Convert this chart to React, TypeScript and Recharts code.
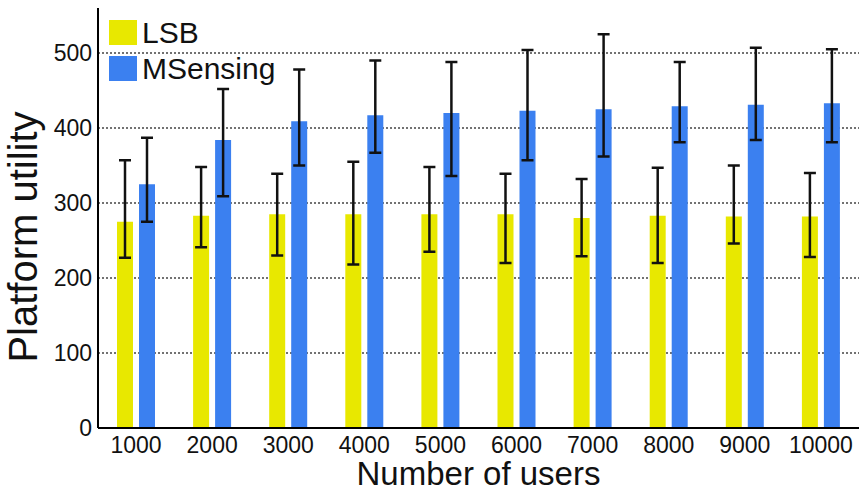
import React from 'react';
import { BarChart, Bar, XAxis, YAxis, CartesianGrid, ErrorBar, Legend } from 'recharts';

const categories = ['1000', '2000', '3000', '4000', '5000', '6000', '7000', '8000', '9000', '10000'];
const lsbValues = [275, 283, 285, 285, 285, 285, 280, 283, 282, 282];
const lsbUpper = [357, 348, 339, 355, 348, 339, 332, 347, 350, 340];
const lsbLower = [227, 241, 230, 218, 235, 220, 229, 220, 246, 228];
const msValues = [325, 384, 409, 417, 420, 423, 425, 429, 431, 433];
const msUpper = [387, 452, 478, 490, 488, 504, 525, 488, 507, 505];
const msLower = [275, 309, 350, 367, 336, 357, 362, 381, 384, 381];
const yTicks = [0, 100, 200, 300, 400, 500];
const gridValues = [100, 200, 300, 400, 500];

const data = categories.map((c, i) => ({
  users: c,
  LSB: lsbValues[i],
  lsbErr: [lsbValues[i] - lsbLower[i], lsbUpper[i] - lsbValues[i]],
  MSensing: msValues[i],
  msErr: [msValues[i] - msLower[i], msUpper[i] - msValues[i]],
}));

const FONT = '"Liberation Sans", Arial, sans-serif';
const YELLOW = '#e8e800';
const BLUE = '#3b80f0';

const LegendContent = (props: any) => {
  const { payload } = props;
  return (
    <div style={{ fontFamily: FONT }}>
      {(payload || []).map((p: any, i: number) => (
        <div key={i} style={{ display: 'flex', alignItems: 'center', height: 25, marginBottom: 11 }}>
          <div style={{ width: 28, height: 25, background: p.color }} />
          <span style={{ fontSize: 30, color: '#111', marginLeft: 5, lineHeight: '25px' }}>{p.value}</span>
        </div>
      ))}
    </div>
  );
};

const YLabel = (props: any) => {
  const vb = props.viewBox;
  const x = vb.x + 37;
  const y = vb.y + vb.height / 2 + 19;
  return (
    <text x={x} y={y} transform={`rotate(-90, ${x}, ${y})`} textAnchor="middle" fontSize={40} fill="#111" fontFamily={FONT}>
      Platform utility
    </text>
  );
};

const XLabel = (props: any) => {
  const vb = props.viewBox;
  const x = vb.x + vb.width / 2;
  const y = vb.y + 57;
  return (
    <text x={x} y={y} textAnchor="middle" fontSize={33} fill="#111" fontFamily={FONT}>
      Number of users
    </text>
  );
};

export default function App() {
  return (
    <div style={{ position: 'absolute', left: 0, top: 0, background: '#fff' }}>
      <BarChart
        width={859}
        height={491}
        data={data}
        margin={{ top: 8, right: 0, bottom: 0, left: 0 }}
        barGap={6}
        barSize={16}
      >
        <CartesianGrid vertical={false} horizontalValues={gridValues} stroke="#444" strokeDasharray="2 2" strokeWidth={1.5} />
        <XAxis
          dataKey="users"
          height={63}
          axisLine={{ stroke: '#000', strokeWidth: 2 }}
          tickLine={false}
          tickSize={6}
          tickMargin={3}
          interval={0}
          tick={{ fontSize: 23, fill: '#111', fontFamily: FONT }}
          label={<XLabel />}
        />
        <YAxis
          width={98}
          domain={[0, 560]}
          ticks={yTicks}
          allowDataOverflow
          axisLine={{ stroke: '#000', strokeWidth: 2 }}
          tickLine={false}
          tickSize={4}
          tickMargin={2}
          tick={{ fontSize: 23, fill: '#111', fontFamily: FONT }}
          label={<YLabel />}
        />
        <Legend
          verticalAlign="middle"
          align="center"
          layout="vertical"
          content={<LegendContent />}
          wrapperStyle={{ top: 20, left: 109, width: 200 }}
        />
        <Bar dataKey="LSB" fill={YELLOW} isAnimationActive={false}>
          <ErrorBar dataKey="lsbErr" stroke="#111" strokeWidth={2.5} width={6} />
        </Bar>
        <Bar dataKey="MSensing" fill={BLUE} isAnimationActive={false}>
          <ErrorBar dataKey="msErr" stroke="#111" strokeWidth={2.5} width={6} />
        </Bar>
      </BarChart>
    </div>
  );
}
